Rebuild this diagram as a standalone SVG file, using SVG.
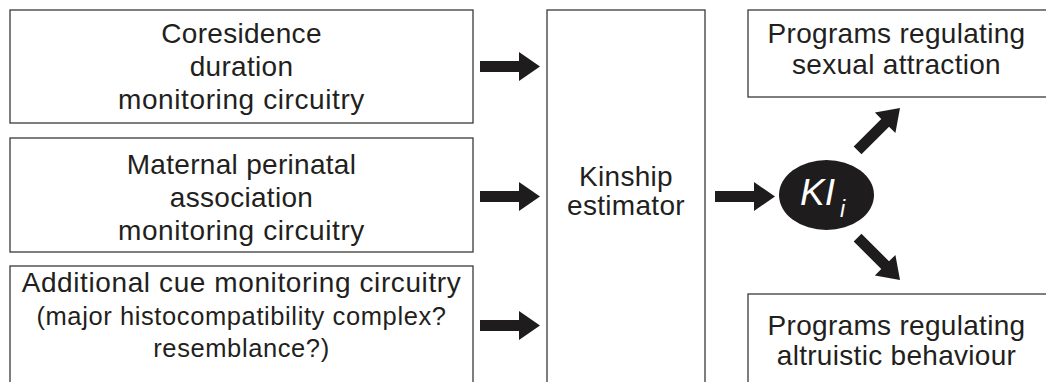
<svg xmlns="http://www.w3.org/2000/svg" xmlns:xlink="http://www.w3.org/1999/xlink" width="1046" height="382" viewBox="0 0 1046 382">
<style>
.box{fill:#fff;stroke:#3a3a3a;stroke-width:1.3}
.t{font-family:"Liberation Sans",Arial,sans-serif;font-size:28px;letter-spacing:0.3px;fill:#231f20;text-anchor:middle}
.w{letter-spacing:0.6px}
.s{font-family:"Liberation Sans",Arial,sans-serif;font-size:25.5px;letter-spacing:0.6px;fill:#231f20;text-anchor:middle}
.arr{fill:#1e1c1c}
</style>
<defs>
<path id="arrow" class="arr" d="M-60,-5.5 L-21,-5.5 L-21,-14.5 L0,0 L-21,14.5 L-21,5.5 L-60,5.5 Z"/>
</defs>
<rect width="1046" height="382" fill="#fff"/>
<g id="coresidence">
<rect class="box" x="10" y="10" width="463" height="113"/>
<text class="t" x="241.5" y="43">Coresidence</text>
<text class="t" x="241.5" y="76">duration</text>
<text class="t w" x="241.5" y="109">monitoring circuitry</text>
</g>
<g id="maternal">
<rect class="box" x="10" y="138" width="463" height="114"/>
<text class="t" x="241.5" y="174">Maternal perinatal</text>
<text class="t" x="241.5" y="207">association</text>
<text class="t w" x="241.5" y="240">monitoring circuitry</text>
</g>
<g id="additional">
<rect class="box" x="10" y="266" width="463" height="120"/>
<text class="t w" x="241.5" y="292">Additional cue monitoring circuitry</text>
<text class="s" x="241.5" y="325">(major histocompatibility complex?</text>
<text class="s" x="241.5" y="357">resemblance?)</text>
</g>
<g id="kinship">
<rect class="box" x="547" y="10" width="158" height="380"/>
<text class="t" x="626" y="186">Kinship</text>
<text class="t" x="626" y="215">estimator</text>
</g>
<g id="ki">
<ellipse cx="826.5" cy="195" rx="47.5" ry="35" fill="#1e1c1c"/>
<text x="800" y="205" font-family="Liberation Sans,Arial,sans-serif" font-size="37" font-style="italic" fill="#fff">KI</text>
<text x="840" y="217" font-family="Liberation Sans,Arial,sans-serif" font-size="23" font-style="italic" fill="#fff">i</text>
</g>
<g id="sexual">
<rect class="box" x="748" y="10" width="300" height="87"/>
<text class="t" x="896.5" y="43">Programs regulating</text>
<text class="t" x="896.5" y="74">sexual attraction</text>
</g>
<g id="altruistic">
<rect class="box" x="748" y="294" width="300" height="100"/>
<text class="t" x="896.5" y="335">Programs regulating</text>
<text class="t" x="896.5" y="365">altruistic behaviour</text>
</g>
<g id="connectors">
<use xlink:href="#arrow" transform="translate(540,66.5)"/>
<use xlink:href="#arrow" transform="translate(540,196.5)"/>
<use xlink:href="#arrow" transform="translate(540,325.5)"/>
<use xlink:href="#arrow" transform="translate(775,196.5)"/>
<use xlink:href="#arrow" transform="translate(900,108) rotate(-45)"/>
<use xlink:href="#arrow" transform="translate(900,280) rotate(45)"/>
</g>
</svg>
